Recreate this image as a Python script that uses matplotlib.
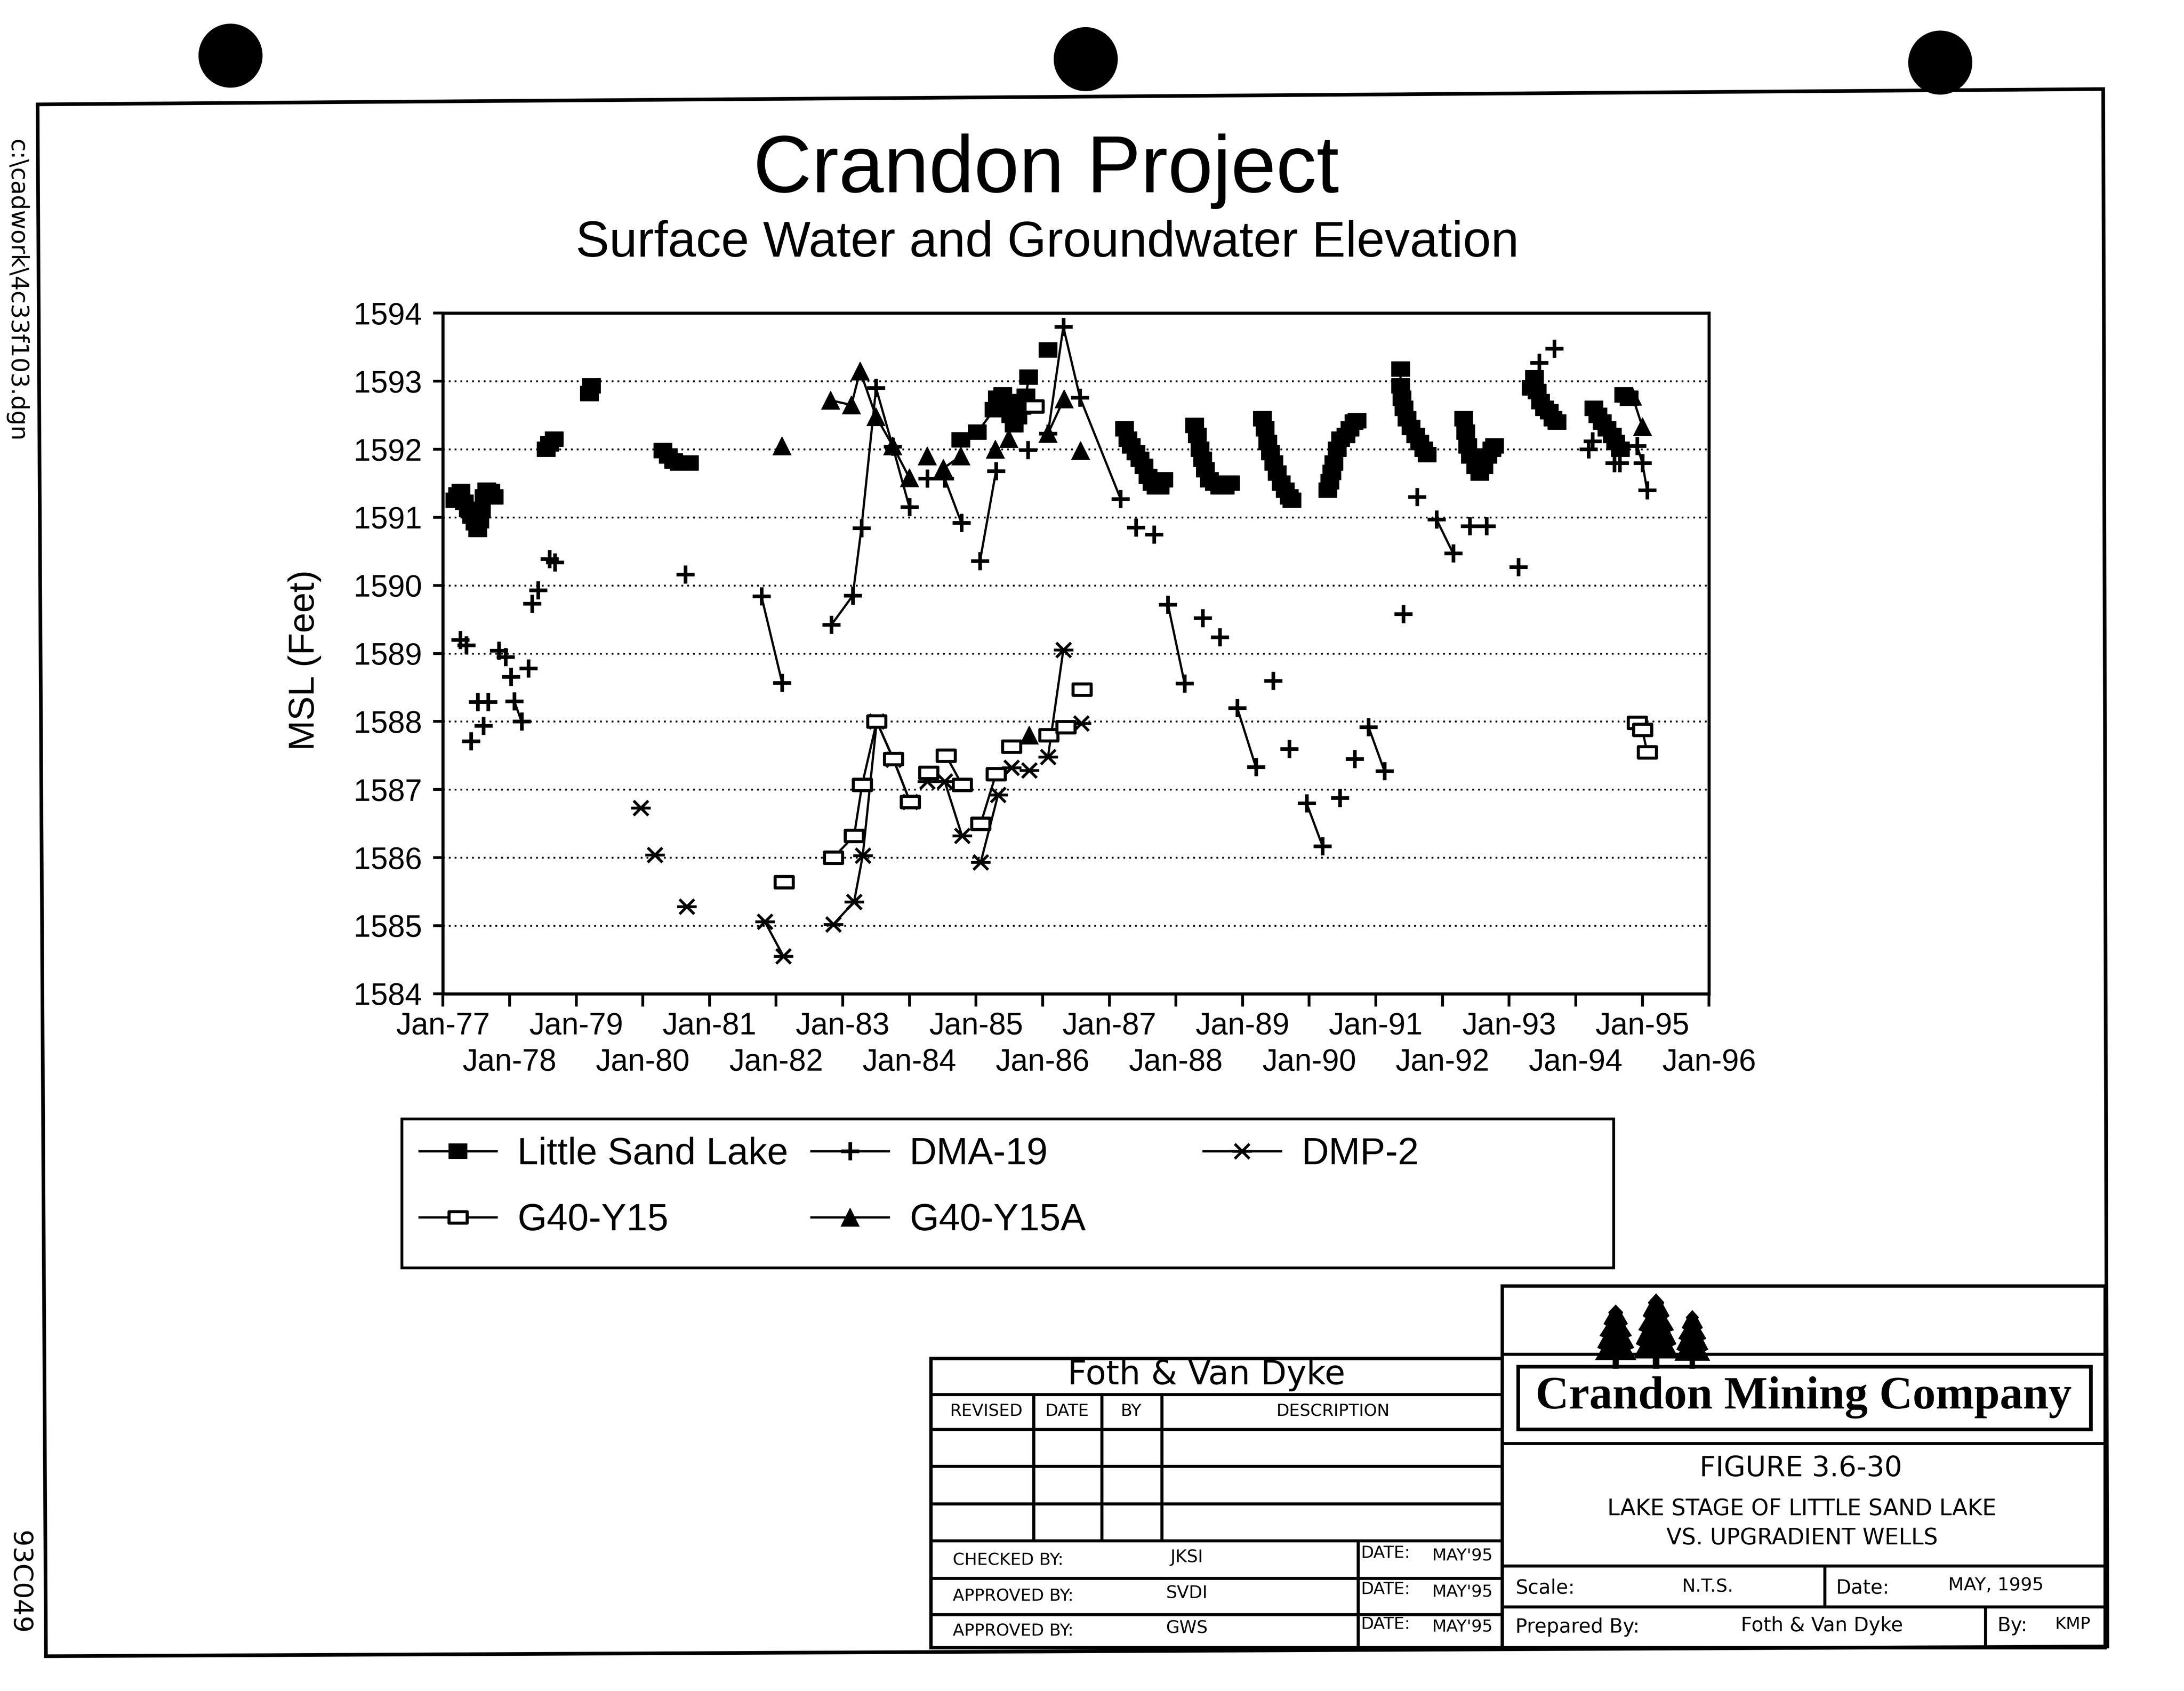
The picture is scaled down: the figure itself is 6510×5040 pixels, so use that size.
import numpy as np
import matplotlib
matplotlib.use("Agg")
import matplotlib.pyplot as plt
from matplotlib.path import Path
from matplotlib.lines import Line2D
from matplotlib.patches import Rectangle, Circle, Polygon

plt.rcParams['font.family'] = ['Liberation Sans', 'DejaVu Sans']

# ------------------------------------------------------------------ data
year_ticks = [1977, 1978, 1979, 1980, 1981, 1982, 1983, 1984, 1985, 1986,
              1987, 1988, 1989, 1990, 1991, 1992, 1993, 1994, 1995, 1996]
year_labels = ["Jan-77", "Jan-78", "Jan-79", "Jan-80", "Jan-81", "Jan-82",
               "Jan-83", "Jan-84", "Jan-85", "Jan-86", "Jan-87", "Jan-88",
               "Jan-89", "Jan-90", "Jan-91", "Jan-92", "Jan-93", "Jan-94",
               "Jan-95", "Jan-96"]
msl_ticks = [1584, 1585, 1586, 1587, 1588, 1589, 1590, 1591, 1592, 1593, 1594]

# Little Sand Lake (lake stage)
lsl_t = [1977.18, 1977.22, 1977.27, 1977.32, 1977.38, 1977.43, 1977.48, 1977.52,
         1977.55, 1977.58, 1977.62, 1977.66, 1977.72, 1977.77,
         1978.55, 1978.60, 1978.67,
         1979.20, 1979.23,
         1980.30, 1980.38, 1980.46, 1980.55, 1980.62, 1980.70,
         1984.77, 1985.02, 1985.27, 1985.32, 1985.40, 1985.47, 1985.52, 1985.57,
         1985.63, 1985.69, 1985.75, 1985.79,
         1986.08,
         1987.23, 1987.28, 1987.33, 1987.40, 1987.46, 1987.52, 1987.58, 1987.64,
         1987.70, 1987.76, 1987.82,
         1988.28, 1988.32, 1988.36, 1988.40, 1988.44, 1988.50, 1988.58, 1988.66,
         1988.74, 1988.82,
         1989.30, 1989.34, 1989.38, 1989.42, 1989.47, 1989.52, 1989.58, 1989.64,
         1989.70, 1989.74,
         1990.28, 1990.31, 1990.34, 1990.37, 1990.42, 1990.47, 1990.55, 1990.61,
         1990.67, 1990.72,
         1991.37, 1991.37, 1991.39, 1991.42, 1991.47, 1991.53, 1991.60, 1991.66,
         1991.72, 1991.77,
         1992.32, 1992.35, 1992.38, 1992.42, 1992.50, 1992.56, 1992.62, 1992.68,
         1992.74, 1992.78,
         1993.33, 1993.38, 1993.42, 1993.47, 1993.53, 1993.60, 1993.66, 1993.72,
         1994.27, 1994.33, 1994.40, 1994.47, 1994.55, 1994.60, 1994.67,
         1994.72, 1994.80]
lsl_v = [1591.25, 1591.33, 1591.38, 1591.22, 1591.12, 1591.02, 1590.92, 1590.82,
         1590.95, 1591.10, 1591.30, 1591.40, 1591.38, 1591.30,
         1592.00, 1592.08, 1592.15,
         1592.82, 1592.93,
         1591.98, 1591.90, 1591.83, 1591.80, 1591.80, 1591.80,
         1592.14, 1592.25, 1592.58, 1592.75, 1592.80, 1592.70, 1592.50, 1592.36,
         1592.48, 1592.62, 1592.78, 1593.06,
         1593.46,
         1592.30, 1592.15, 1592.05, 1591.95, 1591.85, 1591.75, 1591.60, 1591.50,
         1591.45, 1591.45, 1591.55,
         1592.35, 1592.20, 1592.00, 1591.85, 1591.70, 1591.55, 1591.50, 1591.45,
         1591.45, 1591.50,
         1592.45, 1592.30, 1592.10, 1591.95, 1591.80, 1591.65, 1591.50, 1591.40,
         1591.30, 1591.25,
         1591.40, 1591.52, 1591.66, 1591.80, 1592.00, 1592.15, 1592.20, 1592.30,
         1592.40, 1592.42,
         1593.18, 1592.93, 1592.75, 1592.60, 1592.45, 1592.32, 1592.20, 1592.10,
         1592.00, 1591.92,
         1592.45, 1592.25, 1592.05, 1591.90, 1591.75, 1591.65, 1591.75, 1591.90,
         1592.00, 1592.05,
         1592.90, 1593.05, 1592.85, 1592.70, 1592.60, 1592.55, 1592.45, 1592.40,
         1592.60, 1592.50, 1592.40, 1592.30, 1592.20, 1592.10, 1592.00,
         1592.80, 1592.75]
lsl_seg = [0] * 14 + [1] * 3 + [2] * 2 + [3] * 6 + [4] * 12 + [5] + [6] * 11 + \
          [7] * 10 + [8] * 10 + [9] * 10 + [10] * 10 + [11] * 10 + [12] * 8 + \
          [13] * 7 + [14] * 2

# DMA-19 (well)
dma_t = [1977.26, 1977.35, 1977.42, 1977.52, 1977.61, 1977.68, 1977.84, 1977.94,
         1978.02, 1978.07, 1978.18, 1978.28, 1978.34, 1978.43, 1978.60, 1978.68,
         1980.64, 1981.78, 1982.09,
         1982.83, 1983.15, 1983.28, 1983.50, 1983.75, 1984.00,
         1984.27, 1984.53, 1984.78, 1985.06, 1985.30, 1985.78,
         1986.08, 1986.31, 1986.56, 1987.17, 1987.40, 1987.67,
         1987.88, 1988.13, 1988.40, 1988.66, 1988.92, 1989.20, 1989.46, 1989.70,
         1989.96, 1990.20, 1990.46, 1990.68, 1990.89, 1991.13, 1991.41, 1991.62,
         1991.91, 1992.16, 1992.41, 1992.66, 1993.14, 1993.45, 1993.68,
         1994.19, 1994.25, 1994.58, 1994.66, 1994.92, 1995.00, 1995.07]
dma_v = [1589.20, 1589.12, 1587.71, 1588.29, 1587.94, 1588.29, 1589.04, 1588.95,
         1588.66, 1588.30, 1588.00, 1588.78, 1589.73, 1589.93, 1590.39, 1590.34,
         1590.16, 1589.84, 1588.57,
         1589.42, 1589.85, 1590.84, 1592.90, 1592.04, 1591.15,
         1591.57, 1591.57, 1590.92, 1590.36, 1591.68, 1591.99,
         1592.23, 1593.80, 1592.76, 1591.27, 1590.85, 1590.75,
         1589.72, 1588.56, 1589.52, 1589.24, 1588.20, 1587.33, 1588.60, 1587.60,
         1586.80, 1586.17, 1586.88, 1587.45, 1587.92, 1587.27, 1589.58, 1591.30,
         1590.97, 1590.47, 1590.87, 1590.87, 1590.27, 1593.27, 1593.48,
         1592.00, 1592.12, 1591.80, 1591.80, 1592.05, 1591.80, 1591.40]
dma_seg = [0, 1, 2, 3, 4, 5, 6, 7, 8, 9, 9, 10, 11, 12, 13, 14,
           15, 16, 16,
           17, 17, 17, 17, 17, 17,
           18, 18, 18, 19, 19, 20,
           21, 21, 21, 21, 22, 23,
           24, 24, 25, 26, 27, 27, 28, 29,
           30, 30, 31, 32, 33, 33, 34, 35,
           36, 36, 37, 38, 39, 40, 41,
           42, 43, 44, 45, 46, 46, 46]

# DMP-2 (well)
dmp_t = [1979.97, 1980.18, 1980.66, 1981.83, 1982.11,
         1982.86, 1983.17, 1983.30, 1983.51, 1983.76, 1984.01,
         1984.27, 1984.53, 1984.79, 1985.07, 1985.33, 1985.53, 1985.80,
         1986.08, 1986.31, 1986.58]
dmp_v = [1586.73, 1586.04, 1585.28, 1585.06, 1584.55,
         1585.02, 1585.35, 1586.03, 1588.00, 1587.44, 1586.82,
         1587.12, 1587.12, 1586.32, 1585.93, 1586.92, 1587.32, 1587.28,
         1587.48, 1589.05, 1587.97]
dmp_seg = [0, 1, 2, 3, 3,
           4, 4, 4, 4, 4, 4,
           5, 5, 5, 6, 6, 7, 8,
           9, 9, 10]

# G40-Y15 (well)
g15_t = [1982.12, 1982.86, 1983.17, 1983.29, 1983.51, 1983.76, 1984.01,
         1984.29, 1984.55, 1984.79, 1985.07, 1985.30, 1985.53, 1985.87,
         1986.09, 1986.35, 1986.59, 1994.92, 1995.00, 1995.07]
g15_v = [1585.64, 1586.00, 1586.32, 1587.07, 1588.00, 1587.45, 1586.82,
         1587.25, 1587.50, 1587.07, 1586.50, 1587.23, 1587.63, 1592.63,
         1587.80, 1587.92, 1588.47, 1587.98, 1587.88, 1587.55]
g15_seg = [0, 1, 1, 1, 1, 1, 1,
           2, 3, 3, 4, 4, 5, 6,
           7, 7, 8, 9, 9, 9]

# G40-Y15A (well)
g15a_t = [1982.09, 1982.82, 1983.13, 1983.26, 1983.50, 1983.75, 1984.00,
          1984.27, 1984.51, 1984.77, 1985.29, 1985.49, 1985.80,
          1986.08, 1986.32, 1986.57, 1994.85, 1995.00]
g15a_v = [1592.05, 1592.72, 1592.65, 1593.15, 1592.48, 1592.05, 1591.58,
          1591.90, 1591.72, 1591.90, 1592.00, 1592.16, 1587.80,
          1592.23, 1592.74, 1591.98, 1592.78, 1592.33]
g15a_seg = [0, 1, 1, 1, 1, 1, 1,
            2, 3, 3, 4, 5, 6,
            7, 7, 8, 9, 9]

series_names = ["Little Sand Lake", "DMA-19", "DMP-2", "G40-Y15", "G40-Y15A"]

# ------------------------------------------------------------------ styles
rect_path = Path([(-1, -0.8), (1, -0.8), (1, 0.8), (-1, 0.8), (-1, -0.8)],
                 [Path.MOVETO, Path.LINETO, Path.LINETO, Path.LINETO, Path.CLOSEPOLY])
open_rect_path = Path([(-1, -0.62), (1, -0.62), (1, 0.62), (-1, 0.62), (-1, -0.62)],
                      [Path.MOVETO, Path.LINETO, Path.LINETO, Path.LINETO, Path.CLOSEPOLY])
aster_path = Path([(-1, 0), (1, 0), (-0.75, -0.75), (0.75, 0.75), (-0.75, 0.75), (0.75, -0.75)],
                  [Path.MOVETO, Path.LINETO] * 3)

styles = {
    "Little Sand Lake": dict(marker=rect_path, markersize=13, markerfacecolor='black',
                             markeredgecolor='black', markeredgewidth=0.5),
    "DMA-19": dict(marker='+', markersize=13, markeredgewidth=2.6,
                   markeredgecolor='black'),
    "DMP-2": dict(marker=aster_path, markersize=14, markeredgewidth=2.0,
                  markeredgecolor='black', markerfacecolor='none'),
    "G40-Y15": dict(marker=open_rect_path, markersize=13, markerfacecolor='white',
                    markeredgecolor='black', markeredgewidth=2.2),
    "G40-Y15A": dict(marker='^', markersize=13, markerfacecolor='black',
                     markeredgecolor='black', markeredgewidth=0.5),
}

W, H = 1568.0, 1215.0          # layout grid (reference pixel scale)
fig = plt.figure(figsize=(21.7, 16.8), dpi=300)
fig.patch.set_facecolor('white')

# ------------------------------------------------------------------ sheet decorations
deco = fig.add_axes([0, 0, 1, 1], zorder=0)
deco.set_xlim(0, W)
deco.set_ylim(H, 0)
deco.axis('off')

def hl(x0, x1, y, lw=2.2):
    deco.plot([x0, x1], [y, y], color='black', lw=lw, solid_capstyle='butt')

def vl(x, y0, y1, lw=2.2):
    deco.plot([x, x], [y0, y1], color='black', lw=lw, solid_capstyle='butt')

for cx, cy in [(165.5, 40), (779.5, 42.5), (1393, 45)]:
    deco.add_patch(Circle((cx, cy), 22.5, color='black'))

deco.add_patch(Polygon([(27, 75), (1510, 64), (1513, 1183), (33, 1190)], closed=True,
                       fill=False, edgecolor='black', lw=2.6))

cad = ['DejaVu Sans']
deco.text(12, 100, "c:\\cadwork\\4c33f103.dgn", rotation=-90, ha='center', va='top',
          fontsize=17, family=cad)
deco.text(14, 1100, "93C049", rotation=-90, ha='center', va='top', fontsize=19,
          family=cad)

# titles
deco.text(751, 123, "Crandon Project", ha='center', va='center', fontsize=58)
deco.text(752, 175, "Surface Water and Groundwater Elevation", ha='center',
          va='center', fontsize=36)

# legend frame
deco.add_patch(Rectangle((288.5, 804), 870, 107, fill=False, edgecolor='black', lw=2.0))

# left title block (Foth & Van Dyke)
deco.add_patch(Rectangle((668.5, 976), 410, 208, fill=False, edgecolor='black', lw=2.4))
for y in [1002, 1027, 1053.5, 1080.5, 1107, 1134, 1160]:
    hl(668.5, 1078.5, y)
for x in [742, 791, 834]:
    vl(x, 1002, 1107)
vl(975, 1107, 1184)
deco.text(866, 988, "Foth & Van Dyke", ha='center', va='center', fontsize=24, family=cad)
for x, s in [(708, "REVISED"), (766, "DATE"), (812, "BY"), (957, "DESCRIPTION")]:
    deco.text(x, 1014, s, ha='center', va='center', fontsize=12, family=cad)
for y, a, b in [(1121, "CHECKED BY:", "JKSI"), (1147, "APPROVED BY:", "SVDI"),
                (1172, "APPROVED BY:", "GWS")]:
    deco.text(684, y, a, ha='left', va='center', fontsize=12, family=cad)
    deco.text(852, y - 2, b, ha='center', va='center', fontsize=12.5, family=cad)
    deco.text(977, y - 5, "DATE:", ha='left', va='center', fontsize=12, family=cad)
    deco.text(1028, y - 3, "MAY'95", ha='left', va='center', fontsize=12, family=cad)

# right title block (Crandon Mining Company)
deco.add_patch(Rectangle((1078.5, 924), 433, 260, fill=False, edgecolor='black', lw=2.4))
hl(1078.5, 1511.5, 973)
hl(1078.5, 1511.5, 1037)
hl(1078.5, 1511.5, 1125)
hl(1078.5, 1511.5, 1154.5)
vl(1310, 1125, 1154.5)
vl(1425.5, 1154.5, 1184)
deco.add_patch(Rectangle((1090, 982), 411, 45, fill=False, edgecolor='black', lw=2.6))
tree = [(-0.12, 0), (0.12, 0), (0.12, 0.14), (1.0, 0.14), (0.7, 0.3), (0.9, 0.33),
        (0.6, 0.5), (0.78, 0.52), (0.45, 0.68), (0.58, 0.71), (0.3, 0.86), (0.34, 0.89),
        (0, 1.0), (-0.34, 0.89), (-0.3, 0.86), (-0.58, 0.71), (-0.45, 0.68),
        (-0.78, 0.52), (-0.6, 0.5), (-0.9, 0.33), (-0.7, 0.3), (-1.0, 0.14),
        (-0.12, 0.14)]
for cx, top, hw in [(1160, 938, 14), (1189, 930, 15.5), (1215, 942, 12)]:
    bot = 983
    deco.add_patch(Polygon([(cx + hw * x, bot - (bot - top) * y) for x, y in tree],
                           closed=True, color='black', zorder=3))
deco.text(1295, 1004, "Crandon Mining Company", ha='center', va='center', fontsize=33,
          fontweight='bold', family=['Liberation Serif', 'DejaVu Serif'])
deco.text(1293, 1055, "FIGURE 3.6-30", ha='center', va='center', fontsize=20, family=cad)
deco.text(1293.6, 1084, "LAKE STAGE OF LITTLE SAND LAKE", ha='center', va='center',
          fontsize=16, family=cad)
deco.text(1293.7, 1105, "VS. UPGRADIENT WELLS", ha='center', va='center', fontsize=16,
          family=cad)
deco.text(1088, 1141, "Scale:", ha='left', va='center', fontsize=14, family=cad)
deco.text(1226, 1140, "N.T.S.", ha='center', va='center', fontsize=13, family=cad)
deco.text(1318, 1141, "Date:", ha='left', va='center', fontsize=14, family=cad)
deco.text(1433, 1139, "MAY, 1995", ha='center', va='center', fontsize=13, family=cad)
deco.text(1088, 1169, "Prepared By:", ha='left', va='center', fontsize=14, family=cad)
deco.text(1308, 1168, "Foth & Van Dyke", ha='center', va='center', fontsize=14, family=cad)
deco.text(1434, 1168, "By:", ha='left', va='center', fontsize=14, family=cad)
deco.text(1488, 1167, "KMP", ha='center', va='center', fontsize=12, family=cad)

# ------------------------------------------------------------------ chart
ax_l, ax_r, ax_t, ax_b = 318.0, 1227.0, 225.0, 714.0
ax = fig.add_axes([ax_l / W, 1 - ax_b / H, (ax_r - ax_l) / W, (ax_b - ax_t) / H], zorder=2)
ax.set_facecolor('white')

def draw_series(t, v, seg, name):
    t = np.asarray(t); v = np.asarray(v); seg = np.asarray(seg)
    for s in np.unique(seg):
        m = seg == s
        ax.plot(t[m], v[m], color='black', lw=1.6, linestyle='-', zorder=3,
                **styles[name])

draw_series(lsl_t, lsl_v, lsl_seg, "Little Sand Lake")
draw_series(dma_t, dma_v, dma_seg, "DMA-19")
draw_series(dmp_t, dmp_v, dmp_seg, "DMP-2")
draw_series(g15_t, g15_v, g15_seg, "G40-Y15")
draw_series(g15a_t, g15a_v, g15a_seg, "G40-Y15A")

ax.set_xlim(year_ticks[0], year_ticks[-1])
ax.set_ylim(msl_ticks[0], msl_ticks[-1])
ax.set_yticks(msl_ticks)
ax.set_yticklabels([str(m) for m in msl_ticks])
# odd years on the first label row (major ticks), even years on the second row (minor ticks)
ax.set_xticks(year_ticks[0::2])
ax.set_xticklabels(year_labels[0::2])
ax.set_xticks(year_ticks[1::2], minor=True)
ax.set_xticklabels(year_labels[1::2], minor=True)
ax.tick_params(axis='x', which='major', direction='out', length=9, width=2.0, pad=4,
               labelsize=22)
ax.tick_params(axis='x', which='minor', direction='out', length=9, width=2.0, pad=30,
               labelsize=22)
ax.tick_params(axis='y', direction='out', length=7, width=2.0, pad=8, labelsize=22)
for sp in ax.spines.values():
    sp.set_linewidth(2.2)
for m in msl_ticks[1:-1]:
    ax.axhline(m, color='black', lw=1.3, linestyle=(0, (1, 2.2)), zorder=1)
ax.set_ylabel("MSL (Feet)", fontsize=26)
ax.yaxis.set_label_coords(-0.096, 0.49)

# legend (one entry per position, arranged as in the original)
legend_pos = {"Little Sand Lake": (301, 829.5), "DMA-19": (582.5, 829.5),
              "DMP-2": (864, 829.5), "G40-Y15": (301, 877), "G40-Y15A": (582.5, 877)}
for name in series_names:
    h = Line2D([], [], color='black', lw=1.6, **styles[name])
    x, y = legend_pos[name]
    fig.legend(handles=[h], labels=[name], loc='center left',
               bbox_to_anchor=(x / W, 1 - y / H), frameon=False, borderpad=0,
               borderaxespad=0, handlelength=2.05, handletextpad=0.55, fontsize=27)

fig.savefig("out.png", dpi=300, facecolor='white')
